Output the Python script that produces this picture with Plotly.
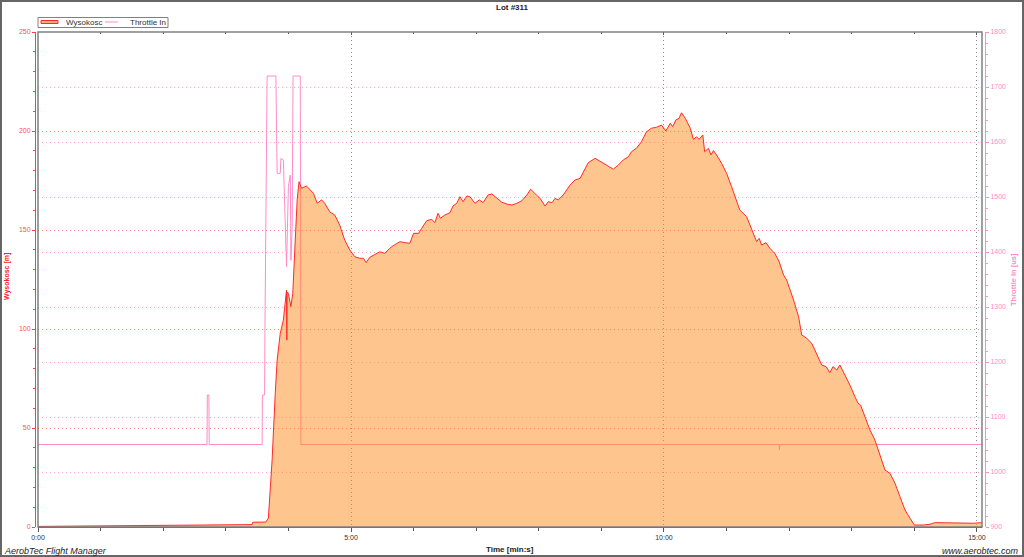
import plotly.graph_objects as go

# ---- data (time in minutes) ----
t_alt = [0, 0.99, 1.95, 3.07, 3.42, 3.43, 3.64, 3.68, 3.71, 3.74,
         3.79, 3.82, 3.87, 3.92, 3.97, 3.975, 3.98, 4.00, 4.04, 4.07,
         4.11, 4.14, 4.17, 4.21, 4.29, 4.35, 4.40, 4.46, 4.53, 4.58,
         4.66, 4.74, 4.82, 4.90, 4.98, 5.06, 5.14, 5.20, 5.24, 5.30,
         5.38, 5.46, 5.54, 5.62, 5.69, 5.78, 5.86, 5.94, 6.00, 6.08,
         6.13, 6.21, 6.29, 6.34, 6.39, 6.43, 6.50, 6.58, 6.63, 6.69,
         6.74, 6.79, 6.85, 6.90, 6.98, 7.05, 7.11, 7.19, 7.25, 7.33,
         7.41, 7.49, 7.57, 7.65, 7.73, 7.81, 7.87, 7.96, 8.02, 8.10,
         8.15, 8.21, 8.26, 8.31, 8.39, 8.50, 8.58, 8.66, 8.71, 8.79,
         8.90, 8.98, 9.08, 9.19, 9.27, 9.35, 9.43, 9.48, 9.56, 9.64,
         9.72, 9.80, 9.88, 9.96, 10.03, 10.10, 10.14, 10.19, 10.24, 10.28,
         10.34, 10.42, 10.47, 10.52, 10.56, 10.62, 10.65, 10.71, 10.75, 10.79,
         10.84, 10.92, 11.00, 11.08, 11.16, 11.21, 11.32, 11.40, 11.48, 11.52,
         11.56, 11.63, 11.69, 11.77, 11.84, 11.91, 11.96, 12.07, 12.15, 12.20,
         12.28, 12.36, 12.44, 12.52, 12.59, 12.65, 12.70, 12.76, 12.81, 12.89,
         12.97, 13.05, 13.10, 13.14, 13.21, 13.29, 13.37, 13.45, 13.53, 13.61,
         13.69, 13.77, 13.85, 13.93, 14.00, 14.14, 14.25, 14.33, 14.68, 14.94,
         15.08]
altitude_m = [0.3, 0.5, 0.8, 1.1, 1.2, 2.4, 2.5, 4.5, 18.7, 33.8,
              67.5, 84.3, 97.8, 104.5, 119.7, 94.4, 118.7, 118.0, 111.3, 118.0,
              141.6, 165.2, 174.4, 171.1, 172.2, 170.2, 168.5, 163.5, 165.2, 163.5,
              159.2, 157.6, 152.5, 144.9, 139.9, 136.5, 135.7, 135.7, 133.5, 136.2,
              137.4, 139.0, 138.2, 140.8, 142.4, 144.1, 143.6, 143.3, 148.3, 148.3,
              150.9, 154.7, 155.4, 153.7, 158.4, 155.9, 157.6, 158.7, 162.1, 163.5,
              166.8, 164.3, 167.2, 166.8, 163.5, 165.2, 163.8, 167.7, 168.2, 166.0,
              164.0, 163.1, 162.6, 163.5, 164.8, 167.7, 170.6, 167.7, 166.0, 162.1,
              164.3, 163.8, 166.0, 165.2, 167.7, 172.7, 175.3, 176.1, 179.4, 184.0,
              186.2, 184.5, 182.8, 180.7, 182.8, 185.4, 187.0, 189.5, 191.3, 194.6,
              199.6, 201.4, 201.9, 203.0, 200.0, 203.9, 202.2, 205.6, 206.4, 209.2,
              206.4, 201.4, 195.8, 197.1, 195.8, 198.0, 189.5, 191.3, 187.9, 190.1,
              187.9, 183.7, 178.6, 171.9, 165.2, 160.1, 156.7, 150.0, 144.1, 145.8,
              142.4, 143.6, 140.8, 138.2, 134.0, 127.3, 124.7, 114.6, 106.2, 97.0,
              95.3, 92.8, 87.7, 81.8, 81.0, 77.9, 81.0, 79.3, 81.8, 76.8,
              71.7, 65.8, 62.5, 61.6, 55.7, 49.0, 43.9, 36.4, 28.8, 27.1,
              22.1, 15.3, 8.6, 4.4, 1.0, 1.0, 1.4, 2.2, 2.0, 1.9,
              2.2]

t_thr = [0, 2.70, 2.705, 2.73, 2.735, 3.58, 3.585, 3.62, 3.625, 3.66,
         3.80, 3.81, 3.82, 3.87, 3.88, 3.92, 3.95, 3.97, 4.00, 4.03,
         4.04, 4.06, 4.075, 4.19, 4.20, 11.84, 11.845, 11.85, 15.08]
throttle_us = [1050, 1050, 1140, 1140, 1050, 1050, 1140, 1140, 1252, 1720,
               1720, 1622, 1543, 1543, 1570, 1567, 1440, 1373, 1519, 1540,
               1385, 1446, 1720, 1720, 1050, 1050, 1040, 1050, 1050]

x_tick_labels = {"0": "0:00", "5": "5:00", "10": "10:00", "15": "15:00"}
series_names = ["Wysokosc", "Throttle In"]

FONT = "Liberation Sans, Arial, sans-serif"
RED = "#FF2A2A"
PINK = "#FF8CC8"
FILL = "rgba(255,140,30,0.5)"
DOTS = "1px,3px"

# ---- geometry ----
W, H = 1024, 557
ML, MR, MT, MB = 30, 39, 32, 30
PW = W - ML - MR
PH = H - MT - MB


def px(x):
    return (x - ML) / PW


def py(y):
    return (H - MB - y) / PH


dom = [px(38), px(982)]

fig = go.Figure()
fig.add_trace(go.Scatter(
    x=t_thr, y=throttle_us, name=series_names[1], mode="lines",
    line=dict(color=PINK, width=1), xaxis="x", yaxis="y",
    hoverinfo="skip", showlegend=False))
fig.add_trace(go.Scatter(
    x=t_alt, y=altitude_m, name=series_names[0], mode="lines",
    line=dict(color=RED, width=1), fill="tozeroy",
    fillcolor=FILL, xaxis="x2", yaxis="y2",
    hoverinfo="skip", showlegend=False))

fig.update_layout(
    width=W, height=H,
    margin=dict(l=ML, r=MR, t=MT, b=MB),
    paper_bgcolor="white", plot_bgcolor="white",
    font=dict(family=FONT, size=7, color="#333"),
    showlegend=False,
    xaxis=dict(domain=dom, range=[0, 15.08], anchor="y",
               tick0=0, dtick=5, labelalias=x_tick_labels,
               ticks="outside", ticklen=4, tickcolor="#555",
               showline=True, linecolor="#555", linewidth=1,
               showgrid=True, gridcolor="#8a8a8a", griddash=DOTS, gridwidth=1,
               zeroline=False,
               minor=dict(dtick=1, ticks="outside", ticklen=3, tickcolor="#555", showgrid=False),
               tickfont=dict(size=7, color="#333")),
    xaxis2=dict(domain=dom, range=[0, 15.08], overlaying="x", side="top", anchor="y2",
                tick0=0, dtick=5, ticks="inside", ticklen=3, tickcolor="#555",
                showticklabels=False, showgrid=False, showline=False, zeroline=False,
                minor=dict(dtick=1, ticks="inside", ticklen=2, tickcolor="#555", showgrid=False)),
    yaxis=dict(domain=[0, 1], range=[900, 1800], side="right", anchor="free", position=px(985),
               tick0=900, dtick=100, ticks="outside", ticklen=3, tickcolor=PINK,
               showline=True, linecolor=PINK, linewidth=1,
               showgrid=True, gridcolor="#FFA8D4", griddash=DOTS, gridwidth=1,
               zeroline=False,
               minor=dict(dtick=20, ticks="outside", ticklen=2, tickcolor=PINK, showgrid=False),
               tickfont=dict(size=7, color=PINK)),
    yaxis2=dict(domain=[0, 1], range=[0, 250], overlaying="y", side="left", anchor="free",
                position=px(35),
                tick0=0, dtick=50, ticks="outside", ticklen=3, tickcolor="#FF4040",
                showline=True, linecolor="#FF4040", linewidth=1,
                showgrid=True, gridcolor="#FF8A8A", griddash=DOTS, gridwidth=1,
                zeroline=False,
                minor=dict(dtick=10, ticks="outside", ticklen=2, tickcolor="#FF4040", showgrid=False),
                tickfont=dict(size=7, color="#FF5050")),
    shapes=[
        # plot frame
        dict(type="rect", xref="paper", yref="paper", x0=dom[0], x1=dom[1], y0=0, y1=1,
             line=dict(color="#808080", width=1.5), layer="above"),
        # outer border
        dict(type="rect", xref="paper", yref="paper", x0=px(1), x1=px(1023), y0=py(556), y1=py(1),
             line=dict(color="#666666", width=2), layer="above"),
        # legend box
        dict(type="rect", xref="paper", yref="paper", x0=px(38), x1=px(168), y0=py(27.5), y1=py(17.5),
             line=dict(color="#808080", width=1), fillcolor="white", layer="above"),
        # legend samples
        dict(type="rect", xref="paper", yref="paper", x0=px(41), x1=px(58), y0=py(23.5), y1=py(20.5),
             line=dict(color=RED, width=1), fillcolor="#FFB070", layer="above"),
        dict(type="line", xref="paper", yref="paper", x0=px(105), x1=px(118), y0=py(22), y1=py(22),
             line=dict(color=PINK, width=1), layer="above"),
    ],
    annotations=[
        dict(text="<b>Lot #311</b>", x=px(512), y=py(8), xref="paper", yref="paper",
             showarrow=False, xanchor="center", yanchor="middle",
             font=dict(size=8, color="#222")),
        dict(text=series_names[0], x=px(64), y=py(22), xref="paper", yref="paper",
             showarrow=False, xanchor="left", yanchor="middle",
             font=dict(size=8, color="#333")),
        dict(text=series_names[1], x=px(128), y=py(22), xref="paper", yref="paper",
             showarrow=False, xanchor="left", yanchor="middle",
             font=dict(size=8, color="#333")),
        dict(text="<b>Time [min:s]</b>", x=px(510), y=py(549), xref="paper", yref="paper",
             showarrow=False, xanchor="center", yanchor="middle",
             font=dict(size=8, color="#222")),
        dict(text="<i>AerobTec Flight Manager</i>", x=px(2), y=py(551), xref="paper", yref="paper",
             showarrow=False, xanchor="left", yanchor="middle",
             font=dict(size=9, color="#222")),
        dict(text="<i>www.aerobtec.com</i>", x=px(1021), y=py(551), xref="paper", yref="paper",
             showarrow=False, xanchor="right", yanchor="middle",
             font=dict(size=9, color="#222")),
        dict(text="<b>Wysokosc [m]</b>", x=px(7), y=py(277), xref="paper", yref="paper",
             showarrow=False, xanchor="center", yanchor="middle", textangle=-90,
             font=dict(size=7, color="#FF2020")),
        dict(text="<b>Throttle In [us]</b>", x=px(1013), y=py(280), xref="paper", yref="paper",
             showarrow=False, xanchor="center", yanchor="middle", textangle=-90,
             font=dict(size=7.5, color=PINK)),
    ],
)

fig.write_html("out.html",
               config={"displayModeBar": False},
               post_script="document.body.style.margin='0';document.body.style.overflow='hidden';")
